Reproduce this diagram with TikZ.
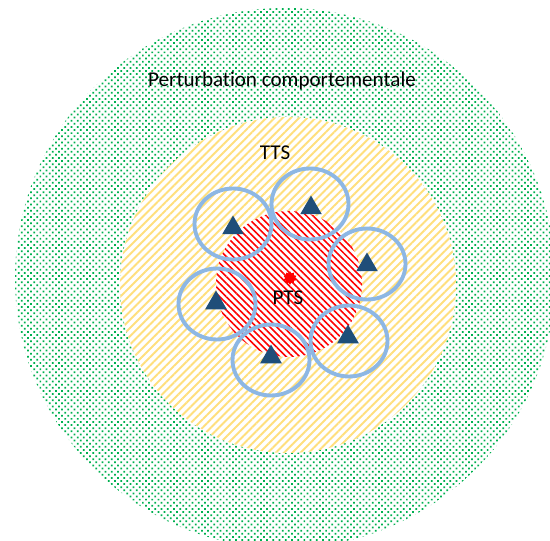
\documentclass[tikz,border=0pt]{standalone}
\usepackage{fontspec}
\setmainfont[Ligatures=NoCommon]{Carlito}
\usetikzlibrary{patterns.meta,shapes.geometric}
\definecolor{zonegreen}{HTML}{00B050}
\definecolor{zoneyellow}{HTML}{FFD966}
\definecolor{zonered}{HTML}{FF0000}
\definecolor{ringblue}{HTML}{8DB7E4}
\definecolor{sensorblue}{HTML}{1F4E79}

\begin{document}
\begin{tikzpicture}[x=0.02cm, y=-0.02cm,
  zone/.style={ellipse, draw=ringblue, line width=2.2pt,
               minimum width=1.54cm, minimum height=1.42cm, inner sep=0pt},
  sensor/.style={regular polygon, regular polygon sides=3, fill=sensorblue,
                 minimum size=0.5cm, inner sep=0pt},
  zonetext/.style={font=\fontsize{12}{14}\selectfont, anchor=base}
]
\useasboundingbox (0,0) rectangle (550,540);

% zones
\path[pattern={Dots[distance=2.5pt, angle=45, radius=0.7pt]}, pattern color=zonegreen]
  (285,278) circle [radius=270];
\fill[white] (288,285) circle [radius=168];
\path[pattern={Lines[distance=3.3pt, angle=45, line width=1.1pt]}, pattern color=zoneyellow!85]
  (288,285) circle [radius=168];
\fill[white] (289,284) circle [radius=73];
\path[pattern={Lines[distance=2.7pt, angle=-45, line width=0.9pt]}, pattern color=zonered]
  (289,284) circle [radius=73];

% coverage rings and sensors
\node[zone] (z1) at (233,224) {};
\node[zone] (z2) at (310,204) {};
\node[zone] (z3) at (367,264) {};
\node[zone] (z4) at (217,304) {};
\node[zone] (z5) at (271,360) {};
\node[zone] (z6) at (349,341) {};

\node[sensor] (s1) at (233,228) {};
\node[sensor] (s2) at (311,208) {};
\node[sensor] (s3) at (367,265) {};
\node[sensor] (s4) at (216,303) {};
\node[sensor] (s5) at (271,357) {};
\node[sensor] (s6) at (348,337) {};

\node[star, star points=10, star point ratio=1.4, fill=zonered, inner sep=0pt,
      minimum size=0.27cm] (src) at (290,278) {};

\node[zonetext] (pert) at (282,87)  {Perturbation comportementale};
\node[zonetext] (tts)  at (275,160) {TTS};
\node[zonetext] (pts)  at (288,304) {PTS};
\end{tikzpicture}
\end{document}
